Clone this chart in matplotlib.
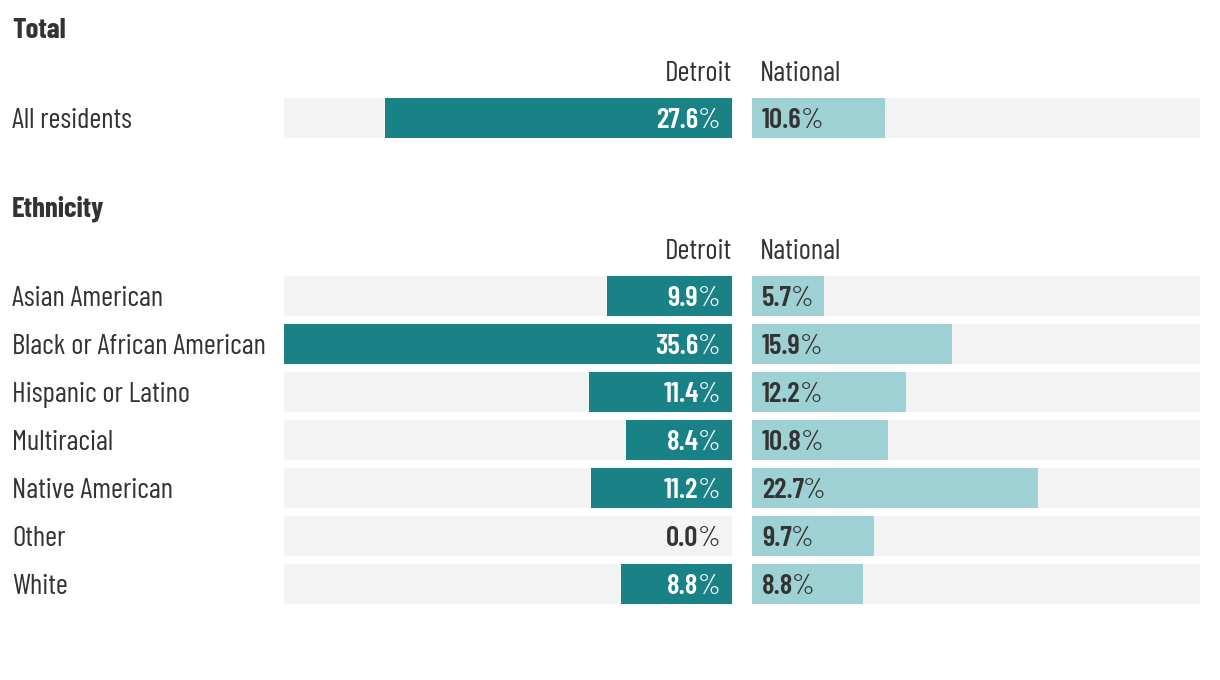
import matplotlib.pyplot as plt
from matplotlib import font_manager

# data
total_labels = ['All residents']
total_detroit = [27.6]
total_national = [10.6]

eth_labels = ['Asian American', 'Black or African American', 'Hispanic or Latino',
              'Multiracial', 'Native American', 'Other', 'White']
eth_detroit = [9.9, 35.6, 11.4, 8.4, 11.2, 0.0, 8.8]
eth_national = [5.7, 15.9, 12.2, 10.8, 22.7, 9.7, 8.8]

W, H = 1220, 680
DARK = '#188286'
LIGHT = '#9dd1d4'
BG = '#f3f3f3'
TXT = '#333333'
FS = 20.8
LW = 'normal'

names = {f.name for f in font_manager.fontManager.ttflist}
fam = [n for n in ['Barlow Condensed', 'Barlow Semi Condensed', 'Roboto Condensed',
                   'DejaVu Sans'] if n in names]
plt.rcParams['font.family'] = fam

scale_max = max(eth_detroit + eth_national + total_detroit + total_national)

fig = plt.figure(figsize=(W / 100, H / 100), dpi=100)
renderer = fig.canvas.get_renderer()


def px_axes(left, top, width, height):
    ax = fig.add_axes([left / W, 1 - (top + height) / H, width / W, height / H])
    ax.set_axis_off()
    return ax


def ftext(x, y, s, **kw):
    fig.text(x / W, 1 - y / H, s, va='baseline', **kw)


def value_label(ax, i, val, side, color):
    num = f'{val:.1f}'
    if side == 'right':
        pct = ax.annotate('%', xy=(0, i), xytext=(-12, -10), textcoords='offset pixels',
                          ha='right', va='baseline', fontsize=FS, fontweight=LW, color=color)
        w = pct.get_window_extent(renderer).width
        ax.annotate(num, xy=(0, i), xytext=(-12 - w + 1, -10), textcoords='offset pixels',
                    ha='right', va='baseline', fontsize=FS, fontweight='semibold', color=color)
    else:
        t = ax.annotate(num, xy=(0, i), xytext=(10, -10), textcoords='offset pixels',
                        ha='left', va='baseline', fontsize=FS, fontweight='semibold', color=color)
        w = t.get_window_extent(renderer).width
        ax.annotate('%', xy=(0, i), xytext=(10 + w - 1, -10), textcoords='offset pixels',
                    ha='left', va='baseline', fontsize=FS, fontweight=LW, color=color)


def section(title, title_base, labels, detroit, national, top):
    n = len(labels)
    pitch, bh = 48, 40
    height = (n - 1) * pitch + bh
    h = bh / pitch
    ax_d = px_axes(284, top, 448, height)
    ax_n = px_axes(752, top, 448, height)
    rows = list(range(n))
    for ax in (ax_d, ax_n):
        ax.barh(rows, [scale_max] * n, height=h, color=BG)
        ax.set_xlim(0, scale_max)
        ax.set_ylim(n - 1 + h / 2, -h / 2)
    ax_d.invert_xaxis()
    ax_d.barh(rows, detroit, height=h, color=DARK)
    ax_n.barh(rows, national, height=h, color=LIGHT)
    for i in rows:
        value_label(ax_d, i, detroit[i], 'right', 'white' if detroit[i] > 0 else TXT)
        value_label(ax_n, i, national[i], 'left', TXT)
        ftext(12, top + bh / 2 + i * pitch + 10, labels[i], ha='left',
              fontsize=FS, fontweight=LW, color=TXT)
    ftext(12, title_base, title, ha='left', fontsize=FS, fontweight='bold', color=TXT)
    ftext(732, top - 17, 'Detroit', ha='right', fontsize=FS, fontweight=LW, color=TXT)
    ftext(760, top - 17, 'National', ha='left', fontsize=FS, fontweight=LW, color=TXT)


section('Total', 38, total_labels, total_detroit, total_national, 98)
section('Ethnicity', 216, eth_labels, eth_detroit, eth_national, 276)

fig.savefig('out.png', dpi=100, facecolor='white')
